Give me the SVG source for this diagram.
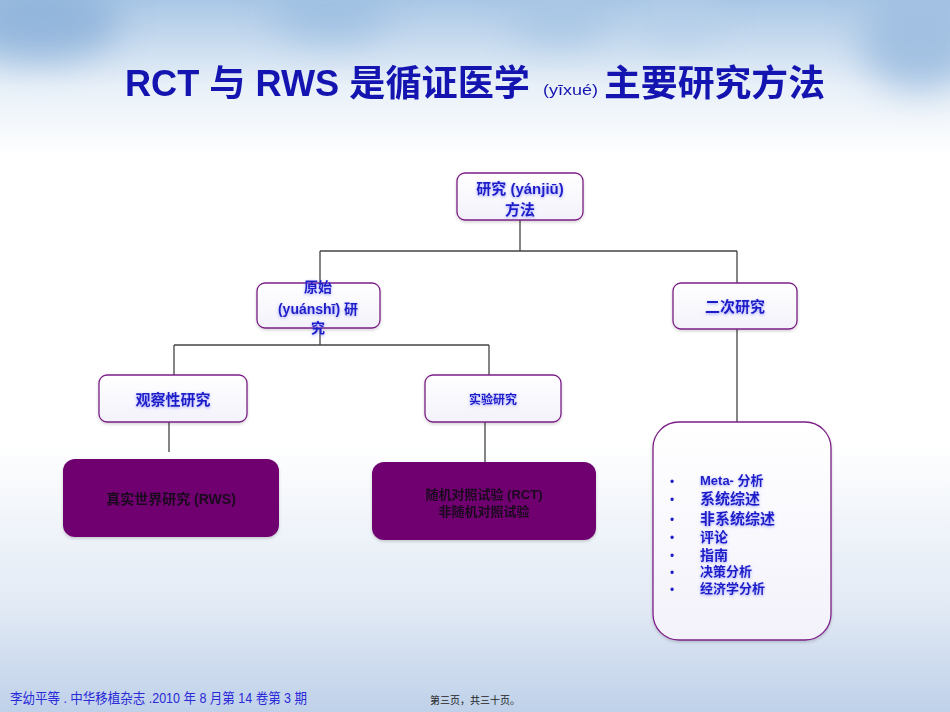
<svg xmlns="http://www.w3.org/2000/svg" width="950" height="712" viewBox="0 0 950 712">
<defs>
<linearGradient id="bg" x1="0" y1="0" x2="0" y2="1">
<stop offset="0" stop-color="#a9c7e6"/>
<stop offset="0.12" stop-color="#e8f0f8"/>
<stop offset="0.22" stop-color="#ffffff"/>
<stop offset="0.62" stop-color="#ffffff"/>
<stop offset="0.85" stop-color="#e2eaf5"/>
<stop offset="1" stop-color="#bfd1e9"/>
</linearGradient>
<linearGradient id="nodefill" x1="0" y1="0" x2="0" y2="1">
<stop offset="0" stop-color="#ffffff"/>
<stop offset="1" stop-color="#f3f2fb"/>
</linearGradient>
<filter id="blur" x="-50%" y="-50%" width="200%" height="200%"><feGaussianBlur stdDeviation="18"/></filter>
<filter id="ts" x="-20%" y="-40%" width="140%" height="180%"><feDropShadow dx="0" dy="1" stdDeviation="1.6" flood-color="#5a5aff" flood-opacity="0.55"/></filter>
<filter id="bs" x="-10%" y="-10%" width="120%" height="130%"><feDropShadow dx="0" dy="1.5" stdDeviation="1.5" flood-color="#000" flood-opacity="0.18"/></filter>
</defs>
<style>
.node{fill:url(#nodefill);stroke:#7b1f86;stroke-width:1.3}
.dark{fill:#700070;stroke:none}
.lbl{font-family:"Liberation Sans","Noto Sans CJK SC",sans-serif;font-weight:bold;fill:#1e1ec8;text-anchor:middle}
.dlbl{font-family:"Liberation Sans","Noto Sans CJK SC",sans-serif;font-weight:bold;fill:#1a0a1e;text-anchor:middle}
.li{font-family:"Liberation Sans","Noto Sans CJK SC",sans-serif;font-weight:bold;fill:#1e1ec8}
.bul{font-family:"Liberation Sans",sans-serif;fill:#1e1ec8;font-size:12px}
.conn{stroke:#444;stroke-width:1.3;fill:none}
</style>
<rect x="0" y="0" width="950" height="712" fill="url(#bg)"/>
<g opacity="0.9">
<ellipse cx="40" cy="20" rx="80" ry="40" fill="#8fb3da" filter="url(#blur)"/>
<ellipse cx="330" cy="10" rx="60" ry="30" fill="#9fc0e2" filter="url(#blur)"/>
<ellipse cx="560" cy="15" rx="50" ry="28" fill="#a8c6e4" filter="url(#blur)"/>
<ellipse cx="920" cy="40" rx="60" ry="50" fill="#9dbde0" filter="url(#blur)"/>
<ellipse cx="680" cy="20" rx="40" ry="20" fill="#b5cfe9" filter="url(#blur)"/>
</g>
<g id="title">
<text x="125" y="96" font-family="Liberation Sans, Noto Sans CJK SC, sans-serif" font-weight="bold" font-size="36" fill="#1414b0" textLength="405" lengthAdjust="spacingAndGlyphs">RCT 与 RWS 是循证医学</text>
<text x="543" y="95" font-family="Liberation Sans, sans-serif" font-size="14" fill="#1414b0" textLength="55" lengthAdjust="spacingAndGlyphs">(yīxué)</text>
<text x="604" y="96" font-family="Liberation Sans, Noto Sans CJK SC, sans-serif" font-weight="bold" font-size="36" fill="#1414b0" textLength="221" lengthAdjust="spacingAndGlyphs">主要研究方法</text>
</g>
<g id="connectors">
<path class="conn" d="M520 220V251M320 251H737M320 251V283M737 251V283"/>
<path class="conn" d="M320 328V345M174 345H489M174 345V375M489 345V375"/>
<path class="conn" d="M169 422V452M485 422V462M737 329V422"/>
</g>
<g id="n-root">
<rect class="node" x="457" y="173" width="126" height="47" rx="8" filter="url(#bs)"/>
<text class="lbl" x="520" y="194" font-size="15" filter="url(#ts)">研究 (yánjiū)</text>
<text class="lbl" x="520" y="215" font-size="15" filter="url(#ts)">方法</text>
</g>
<g id="n-primary">
<rect class="node" x="257" y="283" width="123" height="45" rx="8" filter="url(#bs)"/>
<text class="lbl" x="318" y="292" font-size="14" filter="url(#ts)">原始</text>
<text class="lbl" x="318" y="314" font-size="14" filter="url(#ts)">(yuánshī) 研</text>
<text class="lbl" x="318" y="333" font-size="14" filter="url(#ts)">究</text>
</g>
<g id="n-secondary">
<rect class="node" x="673" y="283" width="124" height="46" rx="8" filter="url(#bs)"/>
<text class="lbl" x="735" y="312" font-size="15" filter="url(#ts)">二次研究</text>
</g>
<g id="n-observ">
<rect class="node" x="99" y="375" width="148" height="47" rx="8" filter="url(#bs)"/>
<text class="lbl" x="173" y="405" font-size="15" filter="url(#ts)">观察性研究</text>
</g>
<g id="n-exper">
<rect class="node" x="425" y="375" width="136" height="47" rx="8" filter="url(#bs)"/>
<text class="lbl" x="493" y="404" font-size="12" filter="url(#ts)">实验研究</text>
</g>
<g id="n-rws">
<rect class="dark" x="63" y="459" width="216" height="78" rx="12" filter="url(#bs)"/>
<text class="dlbl" x="171" y="504" font-size="14">真实世界研究 (RWS)</text>
</g>
<g id="n-rct">
<rect class="dark" x="372" y="462" width="224" height="78" rx="12" filter="url(#bs)"/>
<text class="dlbl" x="484" y="499" font-size="13">随机对照试验 (RCT)</text>
<text class="dlbl" x="484" y="516" font-size="13">非随机对照试验</text>
</g>
<g id="n-list">
<rect class="node" x="653" y="422" width="178" height="218" rx="26" filter="url(#bs)"/>
<g class="bul">
<text x="670" y="486">•</text><text x="670" y="504">•</text><text x="670" y="524">•</text><text x="670" y="542">•</text><text x="670" y="560">•</text><text x="670" y="577">•</text><text x="670" y="594">•</text>
</g>
<g filter="url(#ts)">
<text class="li" x="700" y="485" font-size="13">Meta- 分析</text>
<text class="li" x="700" y="504" font-size="15">系统综述</text>
<text class="li" x="700" y="524" font-size="15">非系统综述</text>
<text class="li" x="700" y="542" font-size="14">评论</text>
<text class="li" x="700" y="560" font-size="14">指南</text>
<text class="li" x="700" y="576" font-size="13">决策分析</text>
<text class="li" x="700" y="593" font-size="13">经济学分析</text>
</g>
</g>
<g id="footer">
<text x="10" y="703" font-family="Liberation Sans, Noto Sans CJK SC, sans-serif" font-size="14" fill="#2a2ad8" textLength="297" lengthAdjust="spacingAndGlyphs">李幼平等 . 中华移植杂志 .2010 年 8 月第 14 卷第 3 期</text>
<text x="430" y="704" font-family="Liberation Sans, Noto Sans CJK SC, sans-serif" font-size="10" fill="#222">第三页，共三十页。</text>
</g>
</svg>
